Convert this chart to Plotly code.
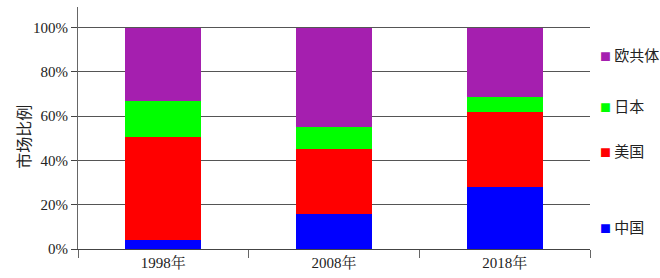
import plotly.graph_objects as go

years = ["1998年", "2008年", "2018年"]
china = [0.04, 0.16, 0.28]
usa = [0.465, 0.29, 0.34]
japan = [0.163, 0.10, 0.065]
eu = [0.332, 0.45, 0.315]

series = [
    ("中国", china, "#0000FF"),
    ("美国", usa, "#FF0000"),
    ("日本", japan, "#00FF00"),
    ("欧共体", eu, "#A51FAF"),
]

legend_y = {"欧共体": 0.805, "日本": 0.593, "美国": 0.407, "中国": 0.093}
y_title = "市场比例"

fig = go.Figure()
for name, vals, col in series:
    fig.add_trace(go.Bar(x=years, y=vals, name=name, marker=dict(color=col, line=dict(width=0)),
                         showlegend=False))

serif = "Liberation Serif, Times New Roman, Noto Serif CJK SC, Noto Sans CJK SC, serif"
cjk = "Noto Sans CJK SC, sans-serif"

for name, vals, col in series:
    fig.add_annotation(
        xref="paper", yref="paper", x=1.015, y=legend_y[name], xanchor="left", yanchor="middle",
        text=f"<span style='color:{col};font-size:11px'>■</span> {name}",
        showarrow=False, font=dict(family=cjk, size=15, color="#222"),
    )

fig.add_annotation(
    xref="paper", yref="paper", x=-0.107, y=0.465, xanchor="center", yanchor="middle",
    text=y_title, textangle=-90, showarrow=False, font=dict(family=cjk, size=16, color="#222"),
)

fig.update_layout(
    barmode="stack",
    bargap=0.555,
    width=660, height=278,
    margin=dict(l=78, r=70, t=7, b=25),
    paper_bgcolor="white", plot_bgcolor="white",
    font=dict(family=serif, size=15, color="#222"),
    xaxis=dict(
        showline=True, linecolor="#444", linewidth=1,
        ticks="outside", tickson="boundaries", ticklen=8, tickcolor="#666",
        showgrid=False, tickfont=dict(family=serif, size=15),
    ),
    yaxis=dict(
        range=[0, 1.093], tickvals=[0, 0.2, 0.4, 0.6, 0.8, 1.0],
        ticktext=["0%", "20%", "40%", "60%", "80%", "100%"],
        showline=True, linecolor="#666", linewidth=1,
        ticks="outside", ticklen=6, tickcolor="#444",
        showgrid=True, gridcolor="#555", gridwidth=1, zeroline=False,
        tickfont=dict(family=serif, size=15),
    ),
)

fig.write_html("out.html")
